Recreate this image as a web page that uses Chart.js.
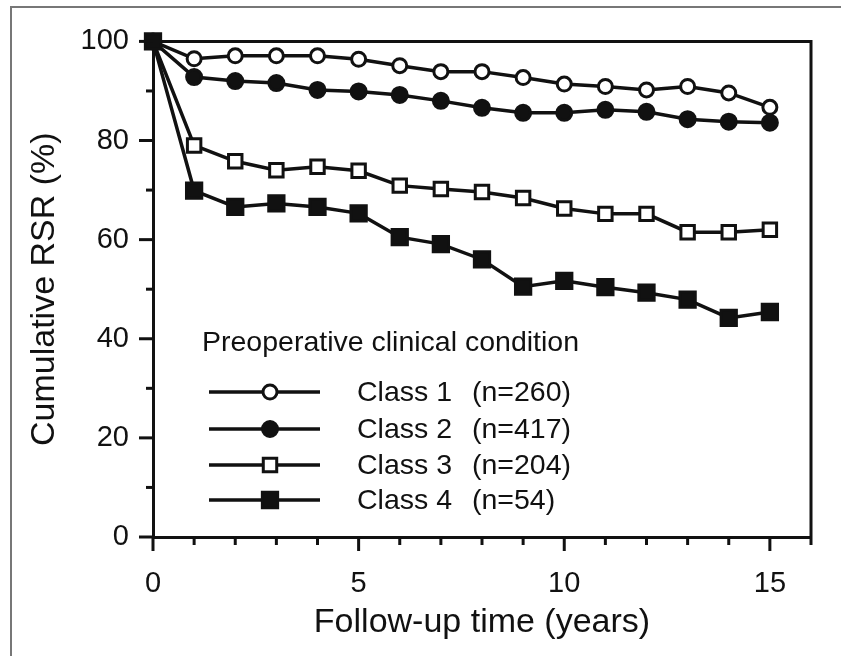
<!DOCTYPE html>
<html>
<head>
<meta charset="utf-8">
<script src="https://cdn.jsdelivr.net/npm/chart.js@4.4.1/dist/chart.umd.min.js"></script>
<style>
  html, body { margin: 0; padding: 0; background: #fff; }
  #wrap { position: relative; width: 841px; height: 656px; }
  #frame { position: absolute; left: 10px; top: 6px; right: 0; bottom: 0;
           border-left: 2px solid #777; border-top: 2px solid #777; pointer-events: none; }
</style>
</head>
<body>
<div id="wrap">
  <canvas id="rsrChart" width="841" height="656"></canvas>
  <div id="frame"></div>
</div>
<script>
// Follow-up years (x values)
const years = [0, 1, 2, 3, 4, 5, 6, 7, 8, 9, 10, 11, 12, 13, 14, 15];

// Cumulative RSR (%) per preoperative class
const class1 = [100, 96.5, 97.1, 97.1, 97.1, 96.4, 95.1, 93.9, 93.9, 92.7, 91.4, 90.9, 90.2, 90.9, 89.6, 86.7];
const class2 = [100, 92.8, 92.0, 91.6, 90.2, 89.9, 89.2, 88.0, 86.6, 85.6, 85.6, 86.2, 85.8, 84.3, 83.8, 83.6];
const class3 = [100, 79.0, 75.8, 74.0, 74.7, 73.9, 70.9, 70.2, 69.6, 68.4, 66.3, 65.2, 65.2, 61.5, 61.5, 62.0];
const class4 = [100, 69.9, 66.6, 67.3, 66.6, 65.3, 60.5, 59.1, 56.0, 50.5, 51.7, 50.4, 49.3, 47.9, 44.2, 45.4];

const classNames = ["Class 1", "Class 2", "Class 3", "Class 4"];
const classCounts = ["(n=260)", "(n=417)", "(n=204)", "(n=54)"];
const legendTitle = "Preoperative clinical condition";

const xTickLabels = [0, 5, 10, 15];
const yTickLabels = [0, 20, 40, 60, 80, 100];

const FONT = "'Liberation Sans', Arial, Helvetica, sans-serif";
const INK = "#111";

function toPoints(values) {
    return values.map(function (v, i) { return { x: years[i], y: v }; });
}

const markerStyles = [
    { pointStyle: "circle", radius: 7, fill: "#fff" },
    { pointStyle: "circle", radius: 7.5, fill: INK },
    { pointStyle: "rect", radius: 9.5, fill: "#fff" },
    { pointStyle: "rect", radius: 10.8, fill: INK }
];

const seriesValues = [class1, class2, class3, class4];

const datasets = seriesValues.map(function (vals, i) {
    const m = markerStyles[i];
    return {
        label: classNames[i] + " " + classCounts[i],
        data: toPoints(vals),
        borderColor: INK,
        borderWidth: 3.5,
        backgroundColor: m.fill,
        pointStyle: m.pointStyle,
        pointRadius: m.radius,
        pointBorderWidth: 3,
        pointBorderColor: INK,
        pointBackgroundColor: m.fill,
        tension: 0,
        clip: false,
        order: 4 - i
    };
});

// Top/right plot box edges and outward ticks (major long, minor short)
const frameTicks = {
    id: "frameTicks",
    afterDraw: function (chart) {
        const ctx = chart.ctx;
        const a = chart.chartArea;
        const xs = chart.scales.x;
        const ys = chart.scales.y;
        ctx.save();
        ctx.strokeStyle = INK;
        ctx.lineWidth = 3;
        ctx.lineCap = "butt";
        ctx.beginPath();
        ctx.moveTo(a.left, a.top);
        ctx.lineTo(a.right, a.top);
        ctx.lineTo(a.right, a.bottom);
        ctx.stroke();

        for (let v = 0; v <= 16; v++) {
            const px = xs.getPixelForValue(v);
            const len = xTickLabels.indexOf(v) >= 0 ? 14 : 8;
            ctx.beginPath();
            ctx.moveTo(px, a.bottom);
            ctx.lineTo(px, a.bottom + len);
            ctx.stroke();
        }
        for (let v = 0; v <= 100; v += 10) {
            const py = ys.getPixelForValue(v);
            const len = yTickLabels.indexOf(v) >= 0 ? 14 : 7;
            ctx.beginPath();
            ctx.moveTo(a.left, py);
            ctx.lineTo(a.left - len, py);
            ctx.stroke();
        }
        ctx.restore();
    }
};

// Legend drawn inside the plot, lower left
const insideLegend = {
    id: "insideLegend",
    afterDatasetsDraw: function (chart) {
        const ctx = chart.ctx;
        ctx.save();
        ctx.fillStyle = INK;
        ctx.textBaseline = "middle";
        ctx.textAlign = "left";
        ctx.font = "28.5px " + FONT;
        ctx.fillText(legendTitle, 202, 343);

        const rowY = [392, 429, 465, 500];
        for (let i = 0; i < classNames.length; i++) {
            const y = rowY[i];
            const m = markerStyles[i];
            ctx.strokeStyle = INK;
            ctx.lineWidth = 3.5;
            ctx.beginPath();
            ctx.moveTo(209, y);
            ctx.lineTo(320, y);
            ctx.stroke();
            ctx.fillStyle = m.fill;
            ctx.lineWidth = 3;
            Chart.helpers.drawPoint(ctx, { pointStyle: m.pointStyle, radius: m.radius, rotation: 0, borderWidth: 3 }, 270, y);
            ctx.fillStyle = INK;
            ctx.font = "28.5px " + FONT;
            ctx.fillText(classNames[i], 357, y + 1);
            ctx.fillText(classCounts[i], 472, y + 1);
        }
        ctx.restore();
    }
};

const ctx = document.getElementById("rsrChart").getContext("2d");

new Chart(ctx, {
    type: "line",
    data: { datasets: datasets },
    options: {
        responsive: false,
        animation: false,
        devicePixelRatio: 1,
        layout: { padding: { left: 0, right: 5, top: 35, bottom: 0 } },
        plugins: {
            legend: { display: false },
            tooltip: { enabled: false }
        },
        scales: {
            x: {
                type: "linear",
                min: 0,
                max: 16,
                afterFit: function (scale) { scale.height = 119; },
                grid: { display: true, drawOnChartArea: false, drawTicks: false },
                border: { display: true, color: INK, width: 3 },
                ticks: {
                    stepSize: 1,
                    autoSkip: false,
                    maxRotation: 0,
                    padding: 30,
                    color: INK,
                    font: { family: FONT, size: 29 },
                    callback: function (v) { return xTickLabels.indexOf(v) >= 0 ? String(v) : ""; }
                },
                title: {
                    display: true,
                    text: "Follow-up time (years)",
                    color: INK,
                    font: { family: FONT, size: 34 },
                    padding: { top: 0, bottom: 13 }
                }
            },
            y: {
                min: 0,
                max: 100,
                afterFit: function (scale) { scale.width = 153; },
                grid: { display: true, drawOnChartArea: false, drawTicks: false },
                border: { display: true, color: INK, width: 3 },
                ticks: {
                    stepSize: 10,
                    autoSkip: false,
                    padding: 24,
                    color: INK,
                    font: { family: FONT, size: 29 },
                    callback: function (v) { return yTickLabels.indexOf(v) >= 0 ? String(v) : ""; }
                },
                title: {
                    display: true,
                    text: "Cumulative RSR (%)",
                    color: INK,
                    font: { family: FONT, size: 34 },
                    padding: { top: 24, bottom: 0 }
                }
            }
        }
    },
    plugins: [frameTicks, insideLegend]
});
</script>
</body>
</html>
